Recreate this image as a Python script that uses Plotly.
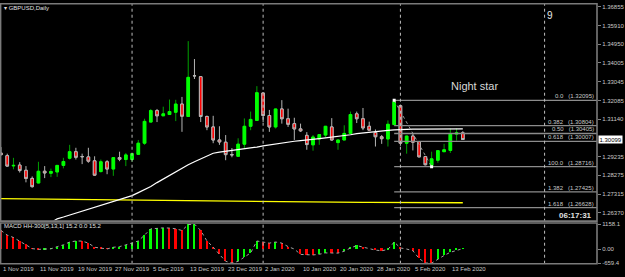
import plotly.graph_objects as go
import pandas as pd

# ---------------- data ----------------
symbol_title = "GBPUSD,Daily"
holidays = ["2019-12-25", "2020-01-01"]
dates = [d for d in pd.bdate_range("2019-11-01", "2020-02-17") if d.strftime("%Y-%m-%d") not in holidays]

opens = [1.29402, 1.29277, 1.28754, 1.28794, 1.28530, 1.28116, 1.27882, 1.28480, 1.28380, 1.28445,
         1.28779, 1.29143, 1.29477, 1.29228, 1.29213, 1.29013, 1.28465, 1.28963, 1.28594, 1.29178,
         1.29078, 1.29078, 1.29342, 1.29910, 1.30987, 1.31571, 1.31306, 1.31371, 1.31486, 1.31904,
         1.31271, 1.33350, 1.33300, 1.31271, 1.30738, 1.30075, 1.29960, 1.29327, 1.29243, 1.29861,
         1.30773, 1.31072, 1.32468, 1.31321, 1.30738, 1.31655, 1.31157, 1.30907, 1.30638, 1.30309,
         1.29826, 1.30125, 1.30324, 1.30738, 1.29940, 1.30075, 1.30409, 1.31406, 1.31157, 1.30773,
         1.30459, 1.30239, 1.30125, 1.30858, 1.31820, 1.29910, 1.30274, 1.29990, 1.29228, 1.28779,
         1.29043, 1.29477, 1.29542, 1.30374, 1.30440]
highs = [1.29711, 1.29377, 1.29163, 1.28943, 1.28744, 1.28216, 1.28963, 1.28744, 1.28614, 1.28790,
         1.29163, 1.29826, 1.29676, 1.29377, 1.29676, 1.29243, 1.29078, 1.29043, 1.29190, 1.29477,
         1.29412, 1.29390, 1.30075, 1.31157, 1.31655, 1.31655, 1.31770, 1.32134, 1.32120, 1.32268,
         1.35110, 1.34198, 1.33310, 1.31321, 1.31306, 1.30773, 1.30324, 1.29661, 1.30160, 1.31172,
         1.31521, 1.32817, 1.32480, 1.31605, 1.31660, 1.32104, 1.31670, 1.31207, 1.30907, 1.30474,
         1.30324, 1.30359, 1.30780, 1.31187, 1.30080, 1.30823, 1.31521, 1.31521, 1.31705, 1.31007,
         1.30608, 1.30324, 1.31072, 1.32095, 1.31870, 1.30290, 1.30409, 1.30000, 1.29240, 1.29477,
         1.29542, 1.29876, 1.30658, 1.30658, 1.30524]
lows = [1.29277, 1.28729, 1.28579, 1.28415, 1.27916, 1.27647, 1.27870, 1.28131, 1.28181, 1.28196,
        1.28629, 1.29078, 1.29078, 1.28844, 1.28913, 1.28246, 1.28415, 1.28330, 1.28246, 1.28993,
        1.28744, 1.28963, 1.29330, 1.29826, 1.30980, 1.30987, 1.31300, 1.31365, 1.31037, 1.30489,
        1.31260, 1.33181, 1.30987, 1.30573, 1.29910, 1.29826, 1.29043, 1.29193, 1.29230, 1.29661,
        1.30573, 1.31060, 1.30987, 1.30489, 1.30658, 1.30907, 1.30738, 1.30075, 1.30489, 1.29576,
        1.29527, 1.29826, 1.30210, 1.30040, 1.29576, 1.30070, 1.30400, 1.30937, 1.30573, 1.30560,
        1.29741, 1.29876, 1.29741, 1.30850, 1.29776, 1.29377, 1.29542, 1.29200, 1.28779, 1.28716,
        1.28913, 1.29470, 1.29412, 1.30040, 1.30075]
closes = [1.29327, 1.28744, 1.28779, 1.28515, 1.28116, 1.27697, 1.28480, 1.28395, 1.28465, 1.28779,
          1.28978, 1.29477, 1.29193, 1.29225, 1.28993, 1.28280, 1.28963, 1.28594, 1.29178, 1.29093,
          1.29312, 1.29377, 1.29910, 1.31022, 1.31571, 1.31306, 1.31406, 1.31521, 1.31904, 1.31286,
          1.33265, 1.33345, 1.31271, 1.30738, 1.30075, 1.29975, 1.29327, 1.29320, 1.29861, 1.30773,
          1.31122, 1.32483, 1.31321, 1.30738, 1.31655, 1.31157, 1.30873, 1.30638, 1.30539, 1.29841,
          1.30225, 1.30350, 1.30773, 1.30075, 1.30075, 1.30409, 1.31371, 1.31157, 1.30688, 1.30573,
          1.30239, 1.30140, 1.30873, 1.32020, 1.29910, 1.30274, 1.29960, 1.29213, 1.28814, 1.29113,
          1.29530, 1.29576, 1.30374, 1.30439, 1.30099]

ma_white = [None] * 8 + [
    1.25863, 1.26057, 1.26147, 1.26247, 1.26346, 1.26446, 1.26566, 1.26660, 1.26755, 1.26855,
    1.26949, 1.27044, 1.27139, 1.27239, 1.27393, 1.27548, 1.27702, 1.27902, 1.28086, 1.28275,
    1.28465, 1.28649, 1.28809, 1.28963, 1.29113, 1.29267, 1.29397, 1.29452, 1.29492, 1.29532,
    1.29576, 1.29616, 1.29661, 1.29711, 1.29771, 1.29821, 1.29871, 1.29925, 1.29980, 1.30010,
    1.30040, 1.30065, 1.30090, 1.30140, 1.30180, 1.30215, 1.30254, 1.30294, 1.30339, 1.30394,
    1.30434, 1.30474, 1.30494, 1.30529, 1.30564, 1.30593, 1.30613, 1.30623, 1.30628, 1.30628,
    1.30630, 1.30630, 1.30632, 1.30635, 1.30638, 1.30640, 1.30640]

ma_yellow = [1.27084, 1.27080, 1.27076, 1.27072, 1.27068, 1.27064, 1.27060, 1.27056, 1.27052, 1.27048,
             1.27044, 1.27040, 1.27035, 1.27030, 1.27025, 1.27020, 1.27015, 1.27010, 1.27005, 1.27000,
             1.26996, 1.26992, 1.26988, 1.26984, 1.26980, 1.26976, 1.26972, 1.26968, 1.26964, 1.26960,
             1.26956, 1.26952, 1.26949, 1.26946, 1.26943, 1.26940, 1.26937, 1.26934, 1.26931, 1.26928,
             1.26925, 1.26922, 1.26920, 1.26918, 1.26916, 1.26914, 1.26912, 1.26910, 1.26908, 1.26906,
             1.26905, 1.26903, 1.26902, 1.26900, 1.26899, 1.26897, 1.26896, 1.26895, 1.26893, 1.26892,
             1.26891, 1.26890, 1.26889, 1.26888, 1.26887, 1.26886, 1.26885, 1.26884, 1.26883, 1.26882,
             1.26881, 1.26880, 1.26879, 1.26878, 1.26877]

macd = [862, 648, 536, 357, 211, 20, -15, -10, 10, 112,
        195, 325, 374, 370, 276, 82, 50, 5, 82, 112,
        195, 276, 374, 648, 942, 960, 985, 975, 942, 862,
        1136, 1158, 862, 374, 90, -248, -570, -650, -570, -374,
        -180, 374, 325, 276, 325, 276, 112, 0, -250, -270,
        -275, -243, -180, -185, -190, -100, 50, 160, 82, 0,
        -50, -80, -20, 325, 50, 0, -80, -440, -650, -655,
        -470, -300, -150, -50, 20]

fib_from_date = "2020-01-31"
fib_to_date = "2020-02-10"
fib_levels = [0.0, 0.382, 0.5, 0.618, 1.0, 1.382, 1.618]
fib_names = ["0.0", "0.382", "0.50", "0.618", "100.0", "1.382", "1.618"]

price_ticks = [1.36855, 1.35910, 1.34950, 1.34005, 1.33045, 1.32085, 1.31140,
               1.29235, 1.28275, 1.27315, 1.26370]
macd_ticks = [1158.1, 0.0, -659.4]
macd_tick_text = ["1158.1", "0.00", "-659.4"]
macd_label = "MACD HH-300[5,13,1] 15.2 0.0 15.2"
pattern_label = "Night star"
corner_mark = "9"
countdown = "06:17:31"

# ---------------- layout helpers ----------------
W, H = 625, 277
R_MARGIN = 25
PW = W - R_MARGIN
FONT = "Liberation Sans, Arial, sans-serif"
GRAY_TXT = "#c8c8c8"
BORDER = "#7a7a7a"


def py(px):
    return 1 - px / H


n = len(dates)
xs = list(range(n))
x_range = [-0.16, 95.5]
date_str = [d.strftime("%Y-%m-%d") for d in dates]
i_from = date_str.index(fib_from_date)
i_to = date_str.index(fib_to_date)
fib_hi = highs[i_from]
fib_lo = lows[i_to]

fig = go.Figure()

# candles: wicks + outlines
fig.add_trace(go.Candlestick(
    x=xs, open=opens, high=highs, low=lows, close=closes,
    increasing=dict(line=dict(color="#00a000", width=1), fillcolor="#00ff00"),
    decreasing=dict(line=dict(color="#b4b4b4", width=1), fillcolor="#ff0000"),
    whiskerwidth=0, hoverinfo="skip", xaxis="x", yaxis="y"))
# bodies overlay (so bull bodies are pure lime)
body_hi = [max(o, c) for o, c in zip(opens, closes)]
body_lo = [min(o, c) for o, c in zip(opens, closes)]
fig.add_trace(go.Candlestick(
    x=xs, open=opens, high=body_hi, low=body_lo, close=closes,
    increasing=dict(line=dict(color="#00ff00", width=1), fillcolor="#00ff00"),
    decreasing=dict(line=dict(color="#b4b4b4", width=1), fillcolor="#ff0000"),
    whiskerwidth=0, hoverinfo="skip", xaxis="x", yaxis="y"))

fig.add_trace(go.Scatter(x=xs, y=ma_yellow, mode="lines",
                         line=dict(color="#ffff00", width=1.3), xaxis="x", yaxis="y"))
fig.add_trace(go.Scatter(x=xs, y=ma_white, mode="lines",
                         line=dict(color="#ffffff", width=1.2), xaxis="x", yaxis="y"))

# fibonacci
fx, fy = [], []
fib_prices = []
for lv in fib_levels:
    p = fib_hi - lv * (fib_hi - fib_lo)
    fib_prices.append(p)
    fx += [i_from, x_range[1], None]
    fy += [p, p, None]
fig.add_trace(go.Scatter(x=fx, y=fy, mode="lines", line=dict(color="#8c8c8c", width=1.3),
                         xaxis="x", yaxis="y"))
fig.add_trace(go.Scatter(x=[i_from, i_to], y=[fib_hi, fib_lo], mode="lines",
                         line=dict(color="#9a9a9a", width=1, dash="dot"), xaxis="x", yaxis="y"))
fig.add_trace(go.Scatter(x=[i_from, i_to], y=[fib_hi, fib_lo], mode="markers",
                         marker=dict(color="#ffffff", size=3, symbol="square"), xaxis="x", yaxis="y"))

# MACD
mcolors = []
for i, v in enumerate(macd):
    prev = macd[i - 1] if i > 0 else v + 1
    mcolors.append("#00ff00" if v > prev else "#ff0000")
fig.add_trace(go.Bar(x=xs, y=macd, marker=dict(color=mcolors, line=dict(width=0)), width=0.26,
                     xaxis="x2", yaxis="y2", hoverinfo="skip"))
fig.add_trace(go.Scatter(x=xs, y=macd, mode="lines", line=dict(color="#a0a0a0", width=1, dash="dot"),
                         xaxis="x2", yaxis="y2"))

shapes = []
# period separators (first bar of each month)
month_starts = [i for i in range(1, n) if dates[i].month != dates[i - 1].month]
for i in month_starts + [87.1]:
    shapes.append(dict(type="line", xref="x", yref="paper", x0=i, x1=i,
                       y0=py(266.5), y1=py(1), line=dict(color="#bdbdbd", width=1, dash="dot")))
# panel borders
shapes.append(dict(type="rect", xref="paper", yref="paper", x0=0.001, x1=1, y0=py(223), y1=py(0.8),
                   line=dict(color=BORDER, width=1.6)))
shapes.append(dict(type="rect", xref="paper", yref="paper", x0=0.001, x1=1, y0=py(266.5), y1=py(224.8),
                   line=dict(color=BORDER, width=1.6)))

ann = []
ann.append(dict(text="▾ " + symbol_title, xref="paper", yref="paper", x=0.004, y=py(5.5),
                xanchor="left", yanchor="middle", showarrow=False, font=dict(size=6, color="#e0e0e0", family=FONT)))
ann.append(dict(text=macd_label, xref="paper", yref="paper", x=0.003, y=py(228),
                xanchor="left", yanchor="middle", showarrow=False, font=dict(size=6, color="#e0e0e0", family=FONT)))
ann.append(dict(text=pattern_label, xref="paper", yref="paper", x=477 / PW, y=py(85),
                xanchor="center", yanchor="middle", showarrow=False, font=dict(size=11, color="#d8d8d8", family=FONT)))
ann.append(dict(text=corner_mark, xref="paper", yref="paper", x=548 / PW, y=py(12.5),
                xanchor="left", yanchor="middle", showarrow=False, font=dict(size=10, color="#e8e8e8", family=FONT)))
ann.append(dict(text="<b>" + countdown + "</b>", xref="paper", yref="paper", x=597 / PW, y=py(217.5),
                xanchor="right", yanchor="middle", showarrow=False, font=dict(size=8, color="#e0e0e0", family=FONT)))
for name, p in zip(fib_names, fib_prices):
    ann.append(dict(text=f"{name}   ({p:.5f})", xref="x", yref="y", x=x_range[1] - 0.15, y=p,
                    xanchor="right", yanchor="bottom", yshift=-1, showarrow=False,
                    font=dict(size=6, color=GRAY_TXT, family=FONT)))
for i in range(0, n, 6):
    ann.append(dict(text=f"{dates[i].day} {dates[i].strftime('%b %Y')}", xref="x", yref="paper", x=i,
                    y=py(271.5), xanchor="left", yanchor="middle", showarrow=False,
                    font=dict(size=6, color=GRAY_TXT, family=FONT)))
ann.append(dict(text=f"{closes[-1]:.5f}", xref="paper", yref="y", x=1.002, y=closes[-1],
                xanchor="left", yanchor="middle", showarrow=False, bgcolor="#ffffff", borderpad=0.5,
                font=dict(size=6, color="#000000", family=FONT)))

fig.update_layout(
    width=W, height=H, margin=dict(l=0, r=R_MARGIN, t=0, b=0),
    paper_bgcolor="#000000", plot_bgcolor="#000000", showlegend=False,
    boxmode="overlay", boxgap=0.4, bargap=0,
    xaxis=dict(domain=[0, 1], range=x_range, visible=False, anchor="y",
               rangeslider=dict(visible=False), fixedrange=True),
    xaxis2=dict(domain=[0, 1], range=x_range, visible=False, anchor="y2",
                rangeslider=dict(visible=False)),
    yaxis=dict(domain=[py(222), py(2)], range=[1.25987, 1.36954], side="right", anchor="x",
               tickvals=price_ticks, ticktext=[f"{v:.5f}" for v in price_ticks],
               tickfont=dict(size=6, color=GRAY_TXT, family=FONT), ticks="outside", ticklen=3,
               tickcolor="#808080", showgrid=False, zeroline=False, showline=False),
    yaxis2=dict(domain=[py(266), py(226)], range=[-660, 1159], side="right", anchor="x2",
                tickvals=macd_ticks, ticktext=macd_tick_text,
                tickfont=dict(size=6, color=GRAY_TXT, family=FONT), ticks="outside", ticklen=3,
                tickcolor="#808080", showgrid=False, zeroline=False, showline=False),
    shapes=shapes, annotations=ann,
)

fig.write_html("out.html")
